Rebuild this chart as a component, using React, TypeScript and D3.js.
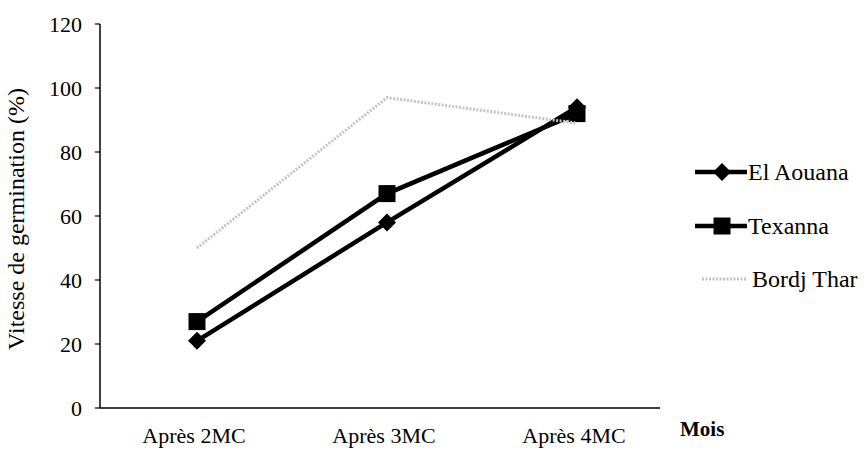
import React from "react";
import * as d3 from "d3";

const months = ["Après 2MC", "Après 3MC", "Après 4MC"];
const elAouana = [21, 58, 94];
const texanna = [27, 67, 92];
const bordjThar = [50, 97, 89];
const yTicks = [0, 20, 40, 60, 80, 100, 120];

const W = 868;
const H = 450;
const font = '"Liberation Serif", "Times New Roman", Times, "DejaVu Serif", serif';

const series = [
  { name: "El Aouana", values: elAouana, color: "#000", width: 4.5, marker: "diamond" },
  { name: "Texanna", values: texanna, color: "#000", width: 4.5, marker: "square" },
  { name: "Bordj Thar", values: bordjThar, color: "#c4c4c4", width: 3, marker: "none" },
];

function Marker({ type, x, y }: { type: string; x: number; y: number }) {
  if (type === "diamond") {
    const s = 9;
    return <path d={`M${x},${y - s}L${x + s},${y}L${x},${y + s}L${x - s},${y}Z`} fill="#000" />;
  }
  if (type === "square") {
    return <rect x={x - 8.5} y={y - 8.5} width={17} height={17} fill="#000" />;
  }
  return null;
}

export default function App() {
  const x = d3.scalePoint<string>().domain(months).range([102, 672]).padding(0.5);
  const y = d3.scaleLinear().domain([0, 120]).range([408, 24]);
  const line = d3
    .line<number>()
    .x((_, i) => x(months[i]) as number)
    .y((d) => y(d));

  const legendY = [172, 226, 279];

  return (
    <svg
      width={W}
      height={H}
      style={{ position: "absolute", left: 0, top: 0, background: "#fff", fontFamily: font }}
    >
      {/* y axis */}
      <line x1={100} x2={100} y1={y(120)} y2={y(0)} stroke="#000" strokeWidth={1.5} />
      {yTicks.map((t) => (
        <g key={t}>
          <line x1={95} x2={100} y1={y(t)} y2={y(t)} stroke="#000" strokeWidth={1.2} />
          <text x={82} y={y(t)} dy="0.35em" textAnchor="end" fontSize={22}>
            {t}
          </text>
        </g>
      ))}
      {/* x axis */}
      <line x1={100} x2={660} y1={y(0)} y2={y(0)} stroke="#000" strokeWidth={1.5} />
      {months.map((m) => (
        <text key={m} x={(x(m) as number) - 3} y={443} textAnchor="middle" fontSize={22}>
          {m}
        </text>
      ))}
      <text x={680} y={436} fontSize={21} fontWeight="bold">
        Mois
      </text>
      <text transform={`translate(24,219) rotate(-90)`} textAnchor="middle" fontSize={24}>
        Vitesse de germination (%)
      </text>

      {/* series */}
      {series.map((s) => (
        <g key={s.name}>
          <path
            d={line(s.values) as string}
            fill="none"
            stroke={s.color}
            strokeWidth={s.width}
            strokeDasharray={s.marker === "none" ? "2 1.5" : undefined}
          />
          {s.values.map((v, i) => (
            <Marker key={i} type={s.marker} x={x(months[i]) as number} y={y(v)} />
          ))}
        </g>
      ))}

      {/* legend */}
      {series.map((s, i) => {
        const gray = s.marker === "none";
        const x1 = gray ? 702 : 695;
        return (
          <g key={s.name}>
            <line
              x1={x1}
              x2={747}
              y1={legendY[i]}
              y2={legendY[i]}
              stroke={s.color}
              strokeWidth={s.width}
              strokeDasharray={gray ? "2 1.5" : undefined}
            />
            <Marker type={s.marker} x={722} y={legendY[i]} />
            <text x={gray ? 752 : 748} y={legendY[i]} dy="0.35em" fontSize={24}>
              {s.name}
            </text>
          </g>
        );
      })}
    </svg>
  );
}
